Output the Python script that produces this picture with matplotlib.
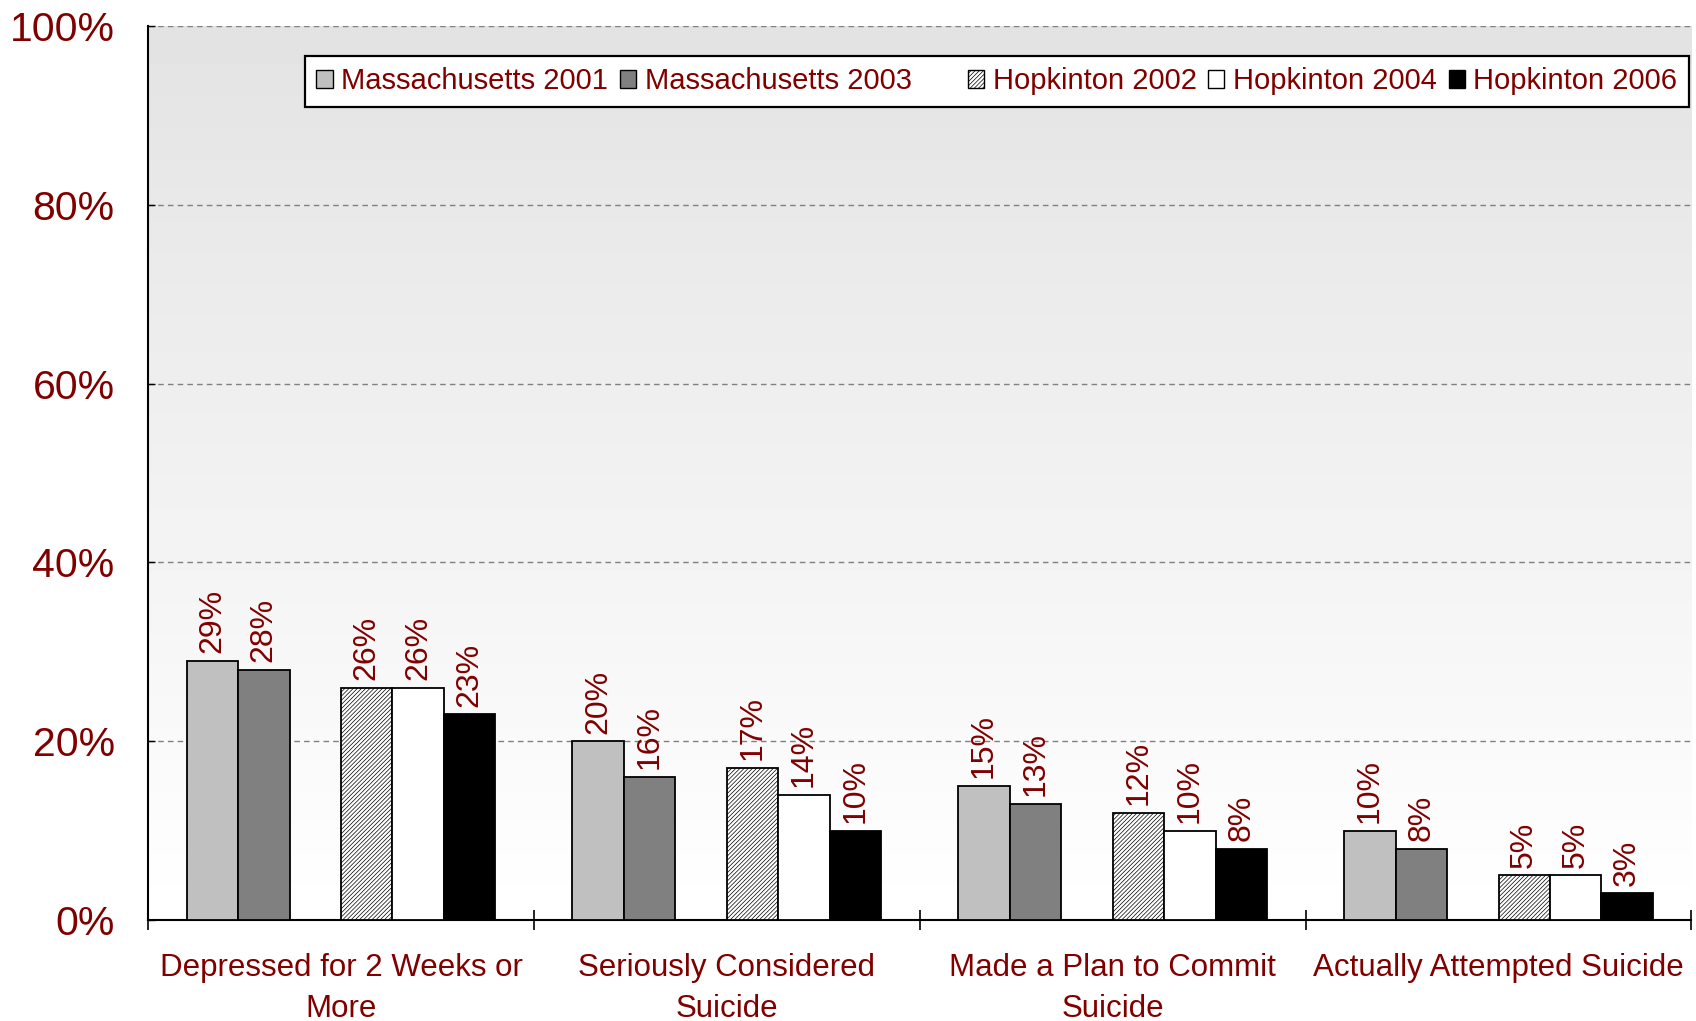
import matplotlib
matplotlib.use('Agg')
import matplotlib.pyplot as plt
from matplotlib.patches import Patch
import numpy as np

categories = ['Depressed for 2 Weeks or\nMore', 'Seriously Considered\nSuicide',
              'Made a Plan to Commit\nSuicide', 'Actually Attempted Suicide']
series_names = ['Massachusetts 2001', 'Massachusetts 2003',
                'Hopkinton 2002', 'Hopkinton 2004', 'Hopkinton 2006']
ma_2001 = [29, 20, 15, 10]
ma_2003 = [28, 16, 13, 8]
hop_2002 = [26, 17, 12, 5]
hop_2004 = [26, 14, 10, 5]
hop_2006 = [23, 10, 8, 3]
y_ticks = [0, 20, 40, 60, 80, 100]

RED = '#800000'
plt.rcParams['font.family'] = ['Liberation Sans', 'DejaVu Sans']
plt.rcParams['hatch.linewidth'] = 0.5
plt.rcParams['hatch.color'] = '#606060'

fig = plt.figure(figsize=(16.96, 10.21), dpi=100)
ax = fig.add_axes([0.0873, 0.0989, 0.910, 0.8756])

# background gradient, grey at the top fading to white
grad = np.linspace(0.89, 1.0, 256).reshape(-1, 1)
ax.imshow(grad, extent=(-0.5, 3.5, 0, 100), origin='upper', cmap='gray',
          vmin=0, vmax=1, aspect='auto', zorder=0)

w = 1 / 7.5
x = np.arange(len(categories))
styles = [
    dict(color='#c0c0c0'),
    dict(color='#808080'),
    dict(color='white', hatch='////////'),
    dict(color='white'),
    dict(color='black'),
]
slots = [0, 1, 3, 4, 5]
values = [ma_2001, ma_2003, hop_2002, hop_2004, hop_2006]
handles = []
for vals, slot, st, name in zip(values, slots, styles, series_names):
    pos = x + (slot - 2.5) * w
    ax.bar(pos, vals, width=w, facecolor=st['color'], hatch=st.get('hatch'),
           edgecolor='black', linewidth=1.3, zorder=3)
    for px, v in zip(pos, vals):
        ax.annotate(f'{v}%', (px, v), xytext=(0, 5.5), textcoords='offset points',
                    rotation=90, ha='center', va='bottom', fontsize=23,
                    color=RED, zorder=4)
    handles.append(Patch(facecolor=st['color'], hatch=st.get('hatch'),
                         edgecolor='black', linewidth=1.0, label=name))

ax.set_xlim(-0.5, 3.5)
ax.set_ylim(0, 100)
ax.set_yticks(y_ticks)
ax.set_yticklabels([f'{t}%' for t in y_ticks])
ax.tick_params(axis='y', direction='in', length=5, width=1, pad=24,
               labelsize=29.5, labelcolor=RED)
ax.set_xticks(x)
ax.set_xticklabels(categories)
ax.tick_params(axis='x', which='major', length=0, pad=24, labelsize=22.5,
               labelcolor=RED)
ax.set_xticks(np.arange(-0.5, 4, 1), minor=True)
ax.tick_params(axis='x', which='minor', direction='inout', length=14, width=1.2)
for lbl in ax.get_xticklabels():
    lbl.set_linespacing(1.45)

ax.yaxis.grid(True, linestyle=(0, (4, 3)), color='#808080', linewidth=1.0, zorder=1)
ax.set_axisbelow(True)
for side in ['top', 'right']:
    ax.spines[side].set_visible(False)
ax.spines['left'].set_linewidth(1.5)
ax.spines['bottom'].set_linewidth(1.5)

blank = Patch(facecolor='none', edgecolor='none', label=' ')
leg_handles = handles[:2] + [blank] + handles[2:]
leg = ax.legend(handles=leg_handles, loc='upper right', bbox_to_anchor=(0.9985, 0.967),
                ncol=6, fontsize=21, frameon=True, fancybox=False, framealpha=1,
                edgecolor='black', handlelength=0.55, handleheight=0.55,
                handletextpad=0.3, columnspacing=0.4, borderpad=0.4,
                borderaxespad=0)
leg.get_frame().set_linewidth(1.6)
for t in leg.get_texts():
    t.set_color(RED)

fig.savefig('out.png', dpi=100)
